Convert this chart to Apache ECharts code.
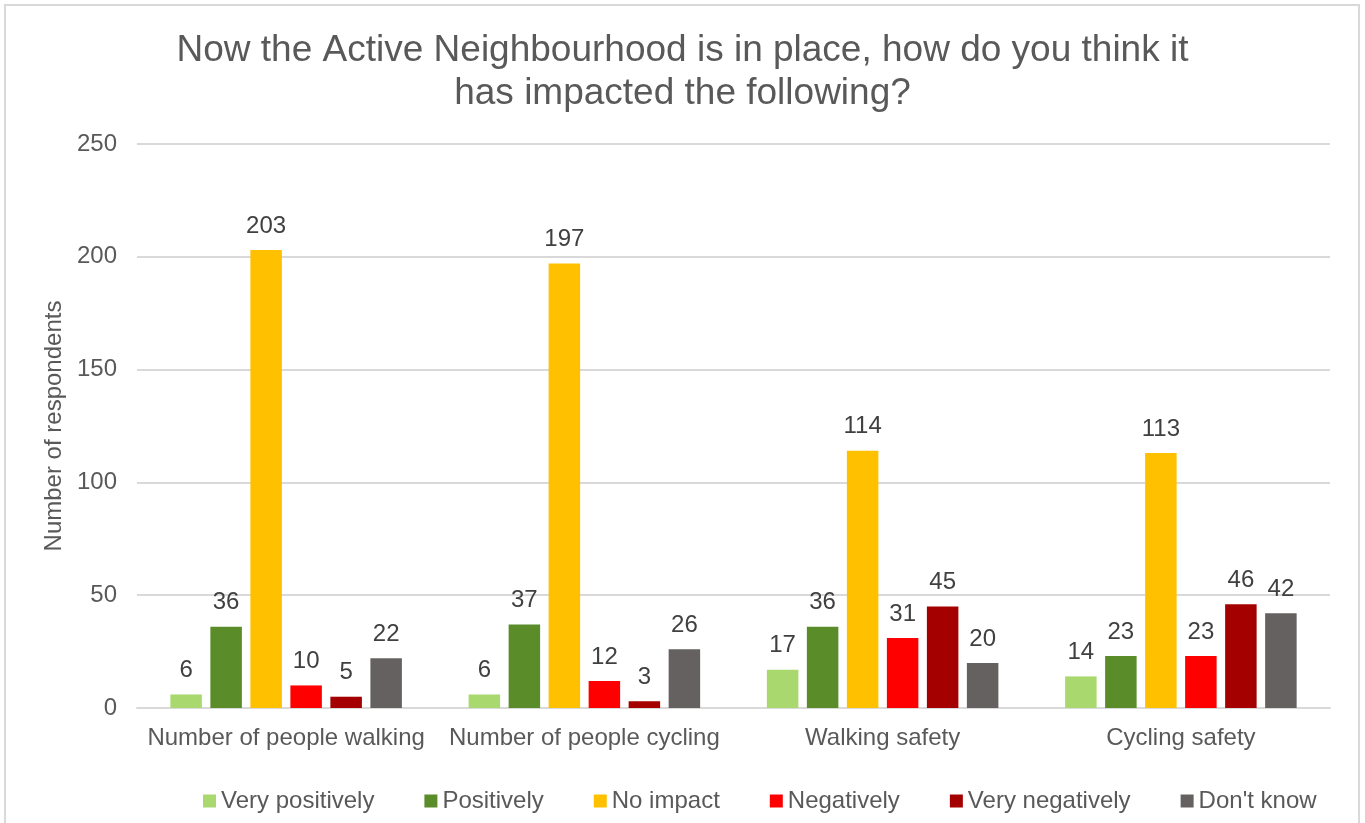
<!DOCTYPE html>
<html>
<head>
<meta charset="utf-8">
<script src="https://cdn.jsdelivr.net/npm/echarts@6/dist/echarts.min.js"></script>
<style>
  html, body { margin: 0; padding: 0; background: #fff; }
  #chart { width: 1365px; height: 823px; }
</style>
</head>
<body>
<div id="chart"></div>
<script>
// categories and series values
const categories = ['Number of people walking', 'Number of people cycling', 'Walking safety', 'Cycling safety'];
const veryPositively = [6, 6, 17, 14];
const positively = [36, 37, 36, 23];
const noImpact = [203, 197, 114, 113];
const negatively = [10, 12, 31, 23];
const veryNegatively = [5, 3, 45, 46];
const dontKnow = [22, 26, 20, 42];

const seriesNames = ['Very positively', 'Positively', 'No impact', 'Negatively', 'Very negatively', "Don't know"];
const seriesData = [veryPositively, positively, noImpact, negatively, veryNegatively, dontKnow];
const colors = ['#A9D86E', '#5B8C2A', '#FFC000', '#FF0000', '#A50000', '#656161'];

const font = 'Liberation Sans, Arial, sans-serif';

const myChart = echarts.init(document.getElementById('chart'));

const option = {
  animation: false,
  color: colors,
  textStyle: { fontFamily: font },
  title: {
    text: 'Now the Active Neighbourhood is in place, how do you think it\nhas impacted the following?',
    left: 'center',
    top: 24,
    textStyle: {
      color: '#595959',
      fontSize: 37,
      fontWeight: 'normal',
      lineHeight: 43,
      fontFamily: font,
    },
  },
  legend: {
    data: seriesNames,
    left: 203,
    top: 789,
    padding: 0,
    itemWidth: 13,
    itemHeight: 13,
    itemGap: 50,
    icon: 'rect',
    textStyle: { color: '#595959', fontSize: 24, fontFamily: font },
  },
  grid: {
    left: 137,
    right: 35,
    top: 144,
    bottom: 115,
    containLabel: false,
  },
  xAxis: {
    type: 'category',
    data: categories,
    axisTick: { show: false },
    axisLine: { lineStyle: { color: '#d9d9d9', width: 2 } },
    axisLabel: { color: '#595959', fontSize: 24, margin: 18, interval: 0, fontFamily: font },
  },
  yAxis: {
    type: 'value',
    min: 0,
    max: 250,
    interval: 50,
    name: 'Number of respondents',
    nameLocation: 'middle',
    nameGap: 71,
    nameTextStyle: { color: '#595959', fontSize: 24, fontFamily: font },
    axisLine: { show: false },
    axisTick: { show: false },
    axisLabel: { color: '#595959', fontSize: 24, margin: 20, fontFamily: font },
    splitLine: { lineStyle: { color: '#d9d9d9', width: 2 } },
  },
  graphic: [{
    type: 'rect',
    shape: { x: 5, y: 5, width: 1354, height: 840 },
    style: { fill: 'none', stroke: '#d9d9d9', lineWidth: 2 },
    silent: true,
  }],
  series: seriesNames.map((name, i) => ({
    name: name,
    type: 'bar',
    data: seriesData[i],
    barWidth: 31.5,
    barGap: '27%',
    label: {
      show: true,
      position: 'top',
      distance: 12,
      color: '#404040',
      fontSize: 24,
      fontFamily: font,
    },
  })),
};

myChart.setOption(option);
</script>
</body>
</html>
